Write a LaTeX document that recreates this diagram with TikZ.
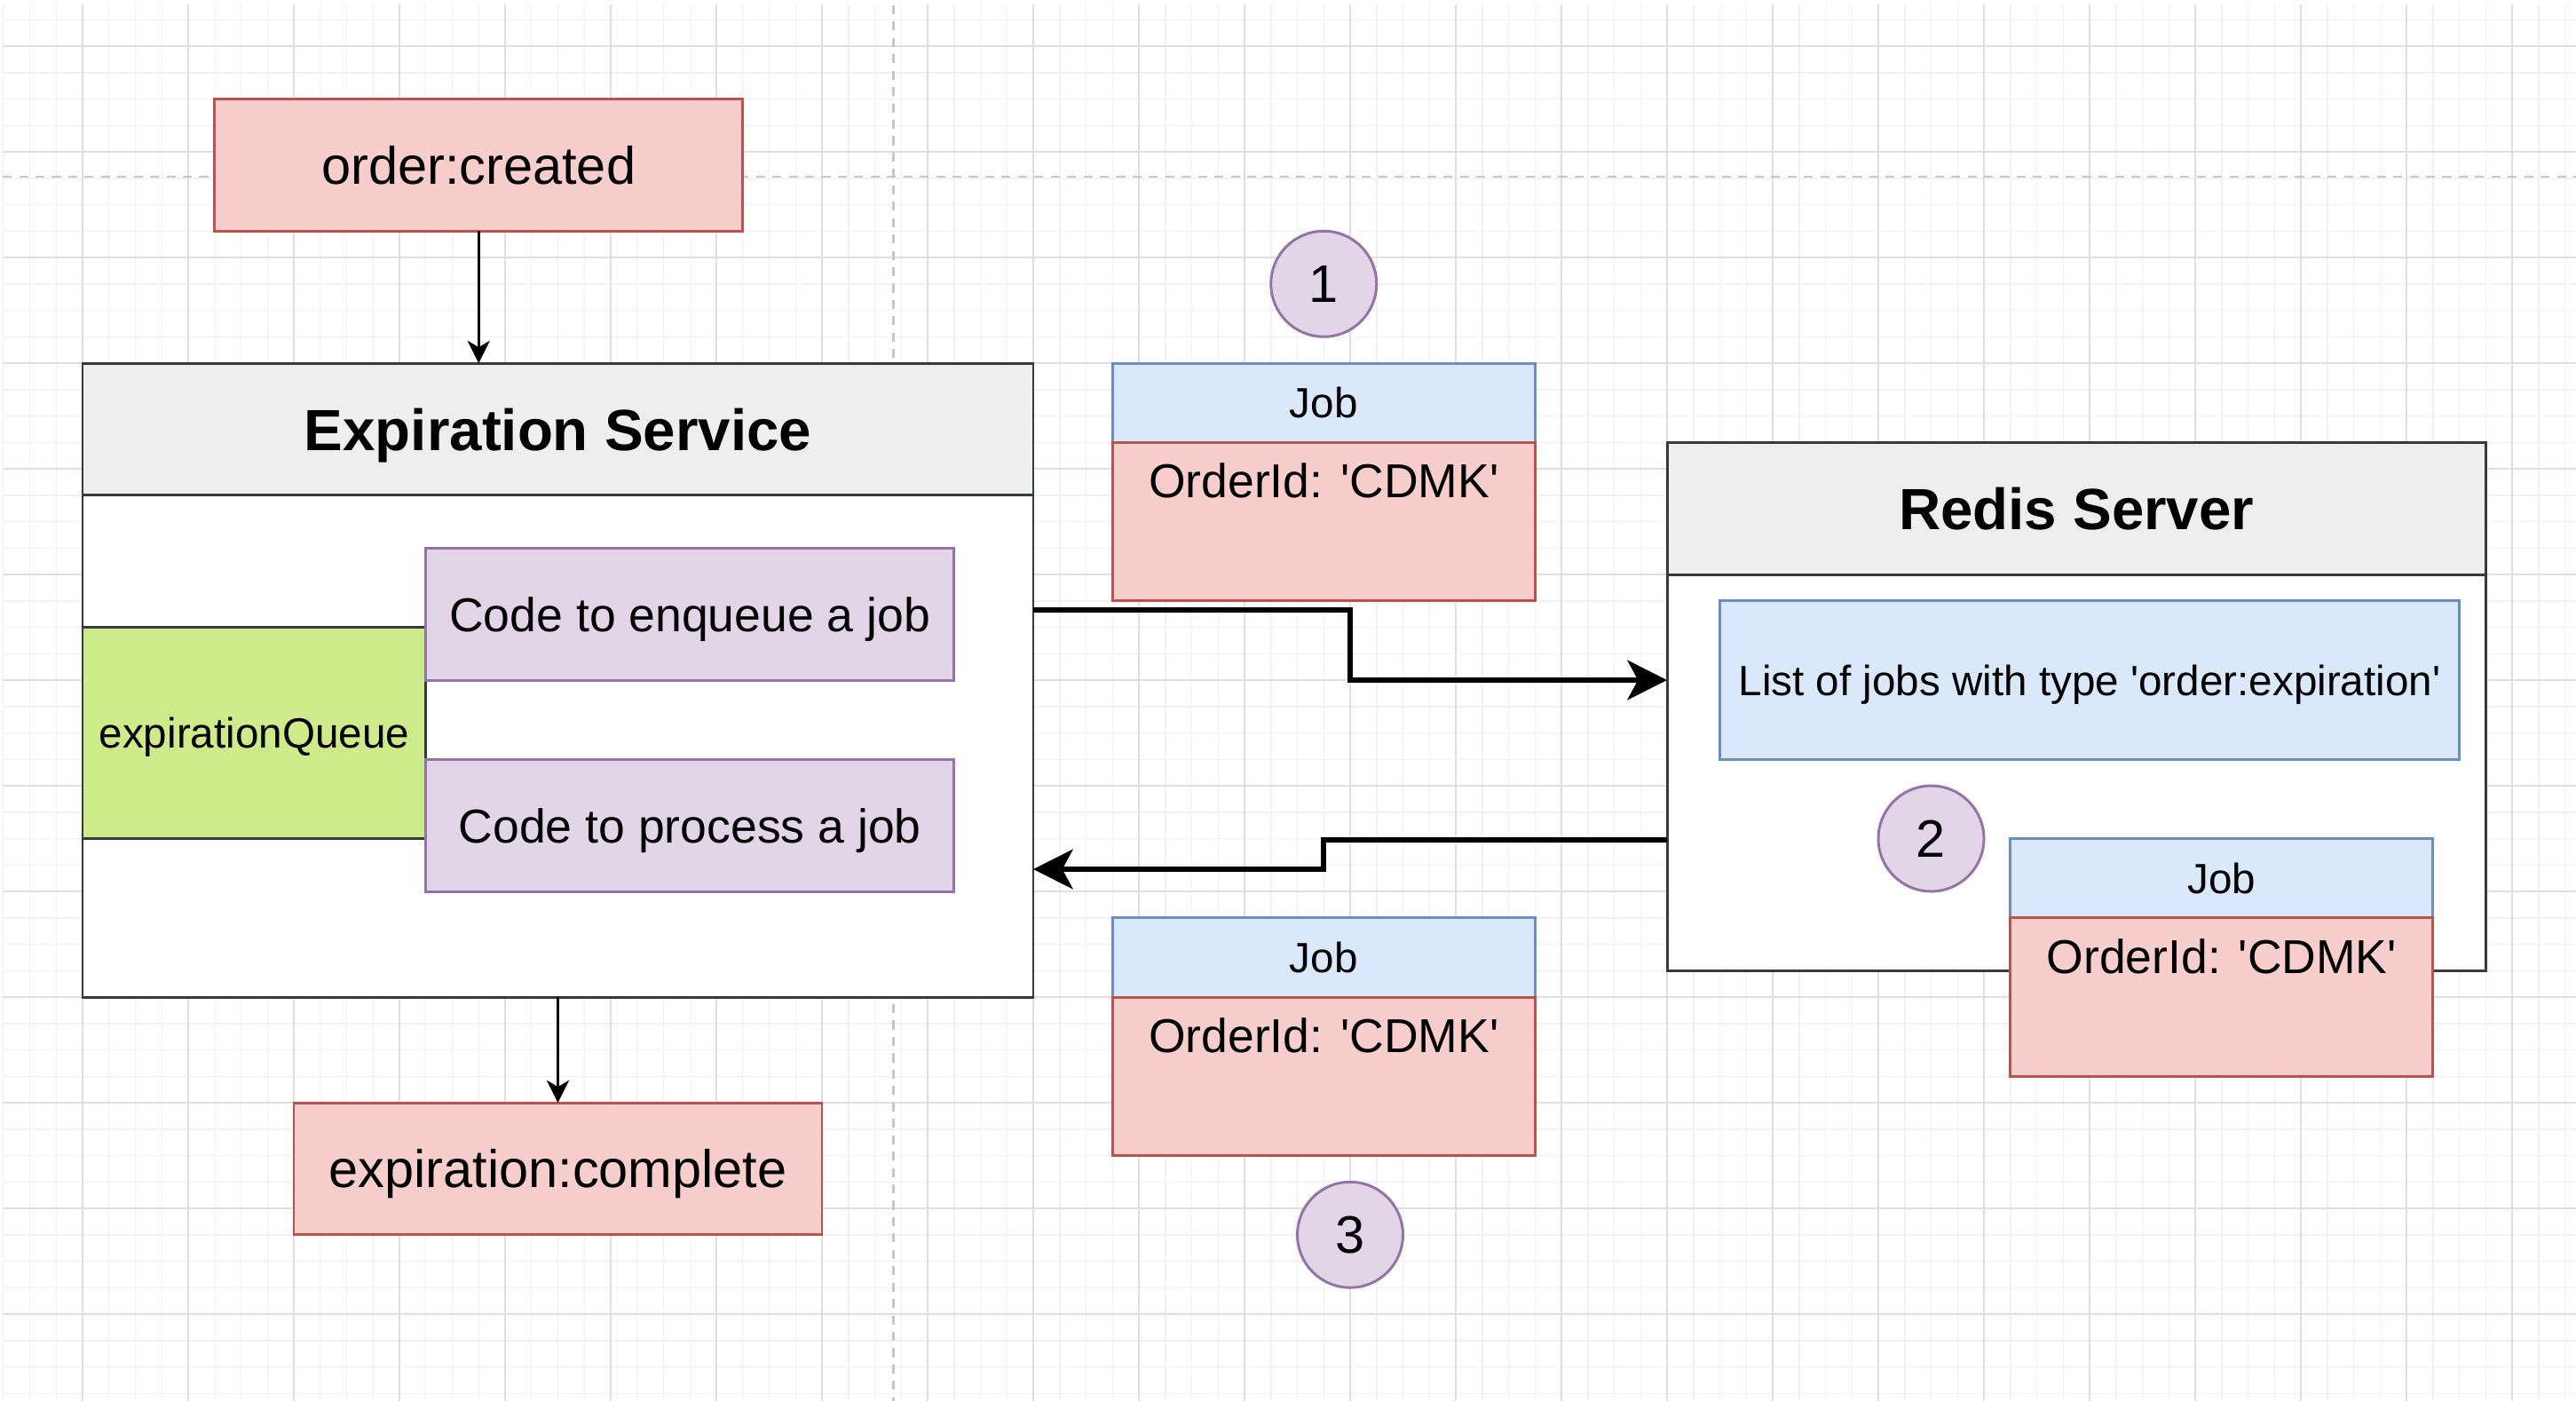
\documentclass[tikz,border=0pt]{standalone}
\usepackage{fontspec}
\setmainfont{Liberation Sans}
\usetikzlibrary{arrows.meta}
\usetikzlibrary{positioning}

\definecolor{redfill}{HTML}{F8CECC}
\definecolor{redline}{HTML}{B85450}
\definecolor{bluefill}{HTML}{DAE8FC}
\definecolor{blueline}{HTML}{6C8EBF}
\definecolor{purplefill}{HTML}{E1D5E7}
\definecolor{purpleline}{HTML}{9673A6}
\definecolor{greenfill}{HTML}{CDEB8B}
\definecolor{greyfill}{HTML}{EEEEEE}
\definecolor{darkline}{HTML}{36393D}
\definecolor{minorgrid}{HTML}{F1F1F1}
\definecolor{majorgrid}{HTML}{DFDFDF}
\definecolor{pageline}{HTML}{C6C6C6}

\newcommand{\fsz}[1]{\fontsize{#1}{#1}\selectfont}
\newcommand{\sq}{\textquotesingle}

\tikzset{
  plainbox/.style={rectangle,inner sep=0pt,outer sep=0pt,line width=1pt,text depth=0pt},
  evtbox/.style={plainbox,fill=redfill,draw=redline,minimum width=200pt,minimum height=50pt,font=\fsz{20}},
  svcbox/.style={plainbox,fill=white,draw=darkline},
  headbox/.style={plainbox,fill=greyfill,draw=darkline,minimum height=50pt,font=\fsz{22}\bfseries},
  codebox/.style={plainbox,fill=purplefill,draw=purpleline,minimum width=200pt,minimum height=50pt,font=\fsz{18}},
  queuebox/.style={plainbox,fill=greenfill,draw=darkline,minimum width=130pt,minimum height=80pt,font=\fsz{16}},
  listbox/.style={plainbox,fill=bluefill,draw=blueline,minimum width=280pt,minimum height=60pt,font=\fsz{16}},
  jobhead/.style={plainbox,fill=bluefill,draw=blueline,minimum width=160pt,minimum height=30pt,font=\fsz{16}},
  jobbody/.style={plainbox,fill=redfill,draw=redline,minimum width=160pt,minimum height=60pt,
    label={[anchor=base,yshift=-21pt,font=\fsz{18}]north:{OrderId: \sq CDMK\sq}}},
  stepcircle/.style={circle,inner sep=0pt,outer sep=0pt,line width=1pt,fill=purplefill,draw=purpleline,minimum size=40pt,font=\fsz{20}},
  bigarrow/.style={line width=2pt,-{Stealth[length=15pt,width=15pt,inset=4pt]}},
  thinarrow/.style={line width=1pt,-{Stealth[length=8.5pt,width=8.5pt,inset=2.5pt]}},
  gridminor/.style={draw=minorgrid,line width=0.5pt},
  gridmajor/.style={draw=majorgrid,line width=0.6pt},
  pagebreak/.style={draw=pageline,line width=0.8pt,dash pattern=on 3.4pt off 2.8pt}
}

\begin{document}
\begin{tikzpicture}[x=10pt,y=-10pt]
\useasboundingbox (-3.126,-1.748) rectangle (94.42,51.29);
\fill[white] (-3.126,-1.748) rectangle (94.42,51.29);
% background grid
\begin{scope}
\clip (-3.02,-1.55) rectangle (94.42,51.29);
\draw[gridminor,step=10pt] (-4,-2) grid (95,52);
\draw[gridmajor,step=40pt] (-4,-2) grid (95,52);
\end{scope}
\draw[pagebreak] (30.71,-1.55) -- (30.71,51.29);
\draw[pagebreak] (-3.02,4.94) -- (94.42,4.94);

% events
\node[evtbox] (ordcreated) at (15,4.5) {order:created};
\node[evtbox] (expcomplete) at (18,42.5) {expiration:complete};

% expiration service
\node[svcbox,minimum width=360pt,minimum height=240pt] (expsvc) at (18,24) {};
\node[headbox,minimum width=360pt] (exphead) at (18,14.5) {Expiration Service};
\node[queuebox] (queue) at (6.5,26) {expirationQueue};
\node[codebox] (enqueue) at (23,21.5) {Code to enqueue a job};
\node[codebox] (process) at (23,29.5) {Code to process a job};

% redis server
\node[svcbox,minimum width=310pt,minimum height=200pt] (redis) at (75.5,25) {};
\node[headbox,minimum width=310pt] (redishead) at (75.5,17.5) {Redis Server};
\node[listbox] (joblist) at (76,24) {List of jobs with type \sq order:expiration\sq};

% jobs
\node[jobhead] (jobone) at (47,13.5) {Job};
\node[jobbody,below=0pt of jobone] (jobonebody) {};
\node[jobhead] (jobtwo) at (81,31.5) {Job};
\node[jobbody,below=0pt of jobtwo] (jobtwobody) {};
\node[jobhead] (jobthree) at (47,34.5) {Job};
\node[jobbody,below=0pt of jobthree] (jobthreebody) {};

% steps
\node[stepcircle] (stepone) at (47,9) {1};
\node[stepcircle] (steptwo) at (70,30) {2};
\node[stepcircle] (stepthree) at (48,45) {3};

% connectors
\draw[thinarrow] (ordcreated.south) -- (ordcreated.south |- expsvc.north);
\draw[thinarrow] (expsvc.south) -- (expcomplete.north);
\draw[bigarrow] ([yshift=26.6pt]expsvc.east) -- ++(12,0) |- ([yshift=10pt]redis.west);
\draw[bigarrow] ([yshift=-50.5pt]redis.west) -- ++(-13,0) |- ([yshift=-71.6pt]expsvc.east);
\end{tikzpicture}
\end{document}
